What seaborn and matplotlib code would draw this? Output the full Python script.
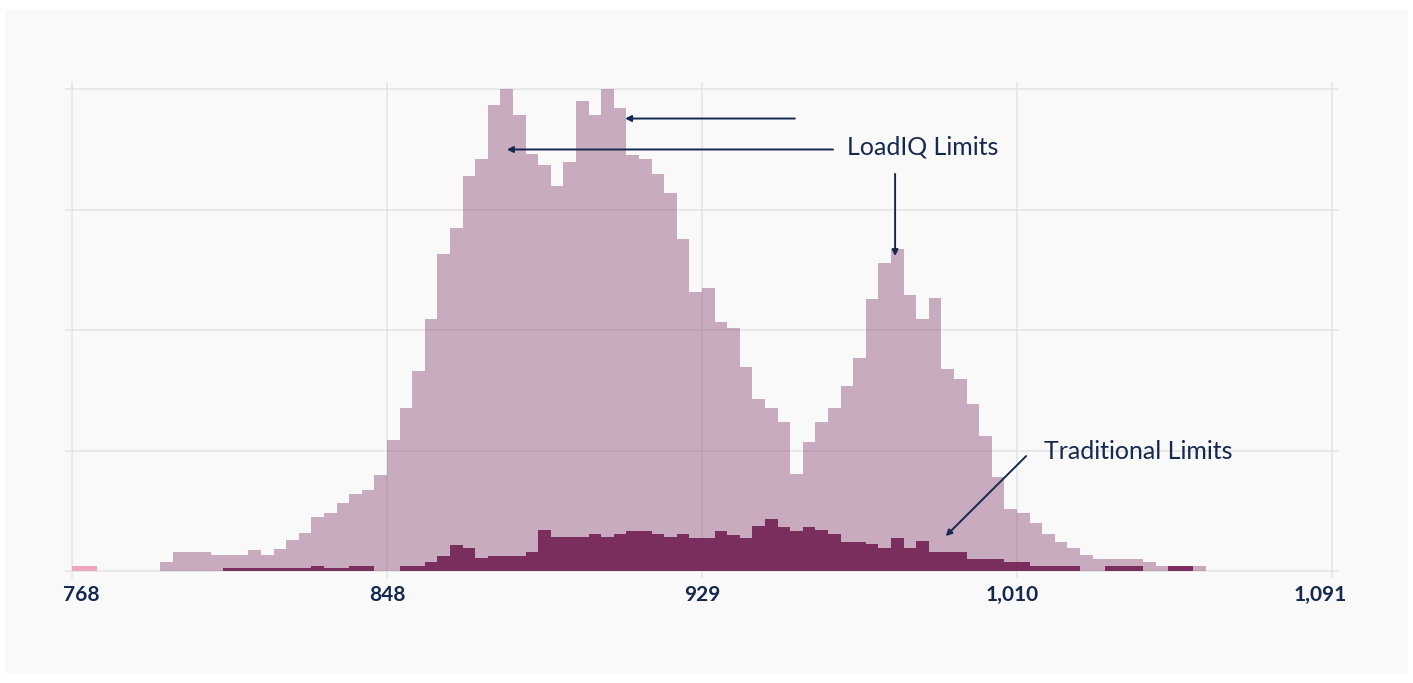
import numpy as np
import pandas as pd
import matplotlib
matplotlib.use("Agg")
import matplotlib.pyplot as plt
import matplotlib.transforms as mtransforms
from matplotlib.patches import Rectangle
import seaborn as sns

# 100 equal bins between 768 and 1091
x_min, x_max = 768, 1091
n_bins = 100
edges = np.linspace(x_min, x_max, n_bins + 1)
centers = (edges[:-1] + edges[1:]) / 2

# all loads (light), one value per bin
all_counts = [
    0, 0, 0, 0, 0, 0, 0, 7.2, 15.5, 15.5,
    15.5, 13, 13, 13, 17.4, 13, 18.3, 25.5, 31.3, 44.5,
    47.9, 56.4, 63.6, 67, 79.7, 109, 135.3, 165.7, 208.9, 262.8,
    284.4, 327.5, 342.2, 386.7, 400, 378.4, 346, 336.7, 319.5, 339.4,
    390, 378.7, 400, 384.2, 345.5, 342.2, 329.2, 313.7, 275.5, 231.8,
    234.6, 206.9, 201.4, 169, 142.7, 135.5, 123.4, 80.2, 106.8, 123.4,
    135, 153.3, 176.5, 225.5, 255.6, 267, 229, 209.1, 226.3, 167.4,
    159.1, 138.6, 112.3, 78.3, 51.5, 47.9, 39.6, 30.7, 24.3, 18.8,
    13.3, 10, 10, 10, 10, 7.2, 4.1, 4.1, 4.1, 4.1,
    0, 0, 0, 0, 0, 0, 0, 0, 0, 0,
]

# loads inside traditional limits (dark)
trad_counts = [
    0, 0, 0, 0, 0, 0, 0, 0, 0, 0,
    0, 0, 2.2, 2.2, 2.2, 2.2, 2.2, 2.2, 2.2, 4.1,
    2.2, 2.2, 4.1, 4.1, 0, 0, 4.1, 4.1, 7.2, 12.7,
    21.6, 19.1, 10.5, 12.7, 12.7, 12.7, 15.8, 34, 28, 28,
    28, 30.7, 28, 30.7, 33.2, 33.2, 30.7, 28, 30.7, 27.7,
    27.7, 33.2, 29.9, 27.7, 37.6, 42.9, 36.3, 33.2, 36.3, 33.8,
    30.7, 24.3, 24.3, 22.1, 18.8, 27.7, 18.8, 24.9, 15.5, 15.5,
    15.5, 10, 10, 10, 7.2, 7.2, 4.1, 4.1, 4.1, 4.1,
    0, 0, 4.1, 4.1, 4.1, 0, 0, 4.1, 4.1, 0,
    0, 0, 0, 0, 0, 0, 0, 0, 0, 0,
]

# small outlier series at the far left (pink)
outlier_counts = [4.1, 4.1] + [0] * 98

tick_values = np.linspace(x_min, x_max, 5)
tick_labels = ["768", "848", "929", "1,010", "1,091"]

df = pd.DataFrame({"load": centers, "all": all_counts,
                   "trad": trad_counts, "outlier": outlier_counts})

navy = "#15294f"
grid_color = "#e3e3e3"

sns.set_style("white")
plt.rcParams["font.family"] = ["Lato", "DejaVu Sans"]

fig = plt.figure(figsize=(14.13, 6.83), dpi=100, facecolor="white")
fig.patches.append(Rectangle((5 / 1413, 10 / 683), 1403 / 1413, 663 / 683,
                             transform=fig.transFigure, facecolor="#f9f9f9",
                             edgecolor="none", zorder=-1))
ax = fig.add_axes([72 / 1413, 112 / 683, 1260 / 1413, 482 / 683])
ax.set_facecolor("#f9f9f9")

hist_kw = dict(x="load", bins=n_bins, binrange=(x_min, x_max), linewidth=0, ax=ax)
sns.histplot(data=df, weights="all", color="#7a2e5e", alpha=0.38, **hist_kw)
sns.histplot(data=df, weights="outlier", color="#eda6bc", alpha=1, **hist_kw)
sns.histplot(data=df, weights="trad", color="#7a2e5e", alpha=1, **hist_kw)

ax.set_xlim(x_min, x_max)
ax.set_ylim(0, 400)
ax.set_xticks(tick_values)
ax.set_xticklabels(tick_labels, fontweight="bold", fontsize=15, color=navy)
ax.set_yticks([0, 100, 200, 300, 400])
ax.set_yticklabels([])
ax.set_xlabel("")
ax.set_ylabel("")
ax.set_axisbelow(True)
ax.grid(True, color=grid_color, linewidth=1.1)
ax.tick_params(direction="out", length=5, width=1.1, color=grid_color,
               top=True, right=True, left=True, bottom=True, pad=5)
for s in ax.spines.values():
    s.set_visible(False)
for line in ax.get_xgridlines() + ax.get_ygridlines():
    line.set_clip_on(False)

# nudge the edge labels inwards like the original
shifts = {0: 9, 3: -5, 4: -12}
for i, lab in enumerate(ax.get_xticklabels()):
    if i in shifts:
        lab.set_transform(lab.get_transform() +
                          mtransforms.ScaledTranslation(shifts[i] / 100, 0, fig.dpi_scale_trans))

arrow = dict(arrowstyle="-|>,head_length=0.35,head_width=0.18", color=navy,
             lw=1.4, shrinkA=0, shrinkB=0)

ax.text(966.7, 352, "LoadIQ Limits", fontsize=18, color=navy, ha="left", va="center")
ax.annotate("", xy=(879.5, 349.8), xytext=(963.1, 349.8), arrowprops=arrow)
ax.annotate("", xy=(909.8, 375.5), xytext=(953.3, 375.5), arrowprops=arrow)
ax.annotate("", xy=(979, 261.4), xytext=(979, 329.5), arrowprops=arrow)

ax.text(1017.2, 99, "Traditional Limits", fontsize=18, color=navy, ha="left", va="center")
ax.annotate("", xy=(992, 29), xytext=(1012.6, 95.4), arrowprops=arrow)

fig.savefig("out.png", dpi=100, facecolor=fig.get_facecolor())
